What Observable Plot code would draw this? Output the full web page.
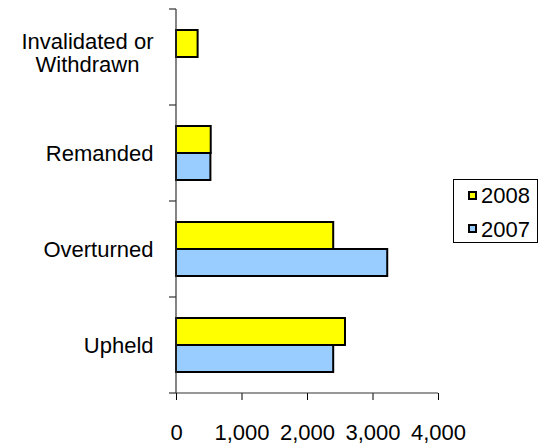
<!DOCTYPE html>
<html>
<head>
<meta charset="utf-8">
<script src="https://cdn.jsdelivr.net/npm/d3@7"></script>
<script src="https://cdn.jsdelivr.net/npm/@observablehq/plot@0.6"></script>
<style>
  html, body { margin: 0; padding: 0; background: white; }
  #wrap { position: relative; width: 539px; height: 447px; font-family: Arial, "Liberation Sans", sans-serif; }
  #legend { position: absolute; left: 452.5px; top: 179px; width: 85px; height: 64px; box-sizing: border-box; border: 1px solid #000; background: white; }
  .item { position: absolute; left: 0; height: 22px; }
  .sw { position: absolute; left: 14.5px; width: 9px; height: 9px; box-sizing: border-box; border: 2px solid #000; }
  .lab { position: absolute; left: 27.5px; top: 0; font-size: 22px; line-height: 22px; color: #000; white-space: nowrap; }
</style>
</head>
<body>
<div id="wrap"></div>
<script>
const categories = ["Invalidated or\nWithdrawn", "Remanded", "Overturned", "Upheld"];
const years = ["2008", "2007"];
const values2008 = [330, 530, 2400, 2580];
const values2007 = [null, 525, 3225, 2400];
const xTicks = [0, 1000, 2000, 3000, 4000];
const yearColors = ["#FFFF00", "#99CCFF"];

const data = categories.flatMap((c, i) => [
  {category: c, year: years[0], value: values2008[i]},
  {category: c, year: years[1], value: values2007[i]}
]).filter(d => d.value != null);

const plot = Plot.plot({
  width: 539,
  height: 447,
  marginLeft: 176,
  marginRight: 101,
  marginTop: 8,
  marginBottom: 52.5,
  style: {fontSize: "22px", fontFamily: "Arial, 'Liberation Sans', sans-serif", color: "#000", background: "white", overflow: "visible"},
  x: {domain: [0, 4000], ticks: xTicks, tickFormat: d3.format(","), tickSize: 7, tickPadding: 24, label: null},
  y: {domain: years, paddingInner: 0, paddingOuter: 0.725, axis: null},
  fy: {domain: categories, padding: 0, axis: "left", tickSize: 0, tickPadding: 23, label: null},
  color: {domain: years, range: yearColors},
  marks: [
    Plot.barX(data, {fy: "category", y: "year", x: "value", fill: "year", stroke: "#000", strokeWidth: 2})
  ]
});

document.getElementById("wrap").appendChild(plot);

// axis lines and category boundary ticks, from the plot's own scales
const fy = plot.scale("fy");
const xs = plot.scale("x");
const x0 = xs.apply(0), x1 = xs.apply(4000);
const bounds = fy.domain.map(d => fy.apply(d));
bounds.push(fy.apply(fy.domain[fy.domain.length - 1]) + fy.bandwidth);
const svg = d3.select(plot);
const g = svg.append("g").attr("stroke", "#333").attr("stroke-width", 1.2);
g.append("line").attr("x1", x0).attr("x2", x0).attr("y1", bounds[0]).attr("y2", bounds[bounds.length - 1]);
g.append("line").attr("x1", x0).attr("x2", x1).attr("y1", bounds[bounds.length - 1]).attr("y2", bounds[bounds.length - 1]);
bounds.forEach(b => g.append("line").attr("x1", x0 - 7).attr("x2", x0).attr("y1", b).attr("y2", b));

// center multi-line category labels on each other (right edge stays put), slightly looser leading
svg.selectAll("text").each(function() {
  const tspans = this.querySelectorAll("tspan");
  if (tspans.length > 1) {
    const bb = this.getBBox();
    const cx = bb.x + bb.width / 2;
    this.setAttribute("text-anchor", "middle");
    const lh = 1.08;
    const n = tspans.length;
    tspans.forEach((t, i) => {
      t.setAttribute("x", cx);
      t.setAttribute("dy", i === 0 ? `${0.32 - (n - 1) * lh / 2}em` : `${lh}em`);
    });
  }
});

// legend
const legend = document.createElement("div");
legend.id = "legend";
const rowTops = [5, 38.8];
years.forEach((y, i) => {
  const item = document.createElement("div");
  item.className = "item";
  item.style.top = rowTops[i] + "px";
  const sw = document.createElement("div");
  sw.className = "sw";
  sw.style.top = "5.7px";
  sw.style.background = yearColors[i];
  const lab = document.createElement("div");
  lab.className = "lab";
  lab.textContent = y;
  item.appendChild(sw);
  item.appendChild(lab);
  legend.appendChild(item);
});
document.getElementById("wrap").appendChild(legend);
</script>
</body>
</html>
